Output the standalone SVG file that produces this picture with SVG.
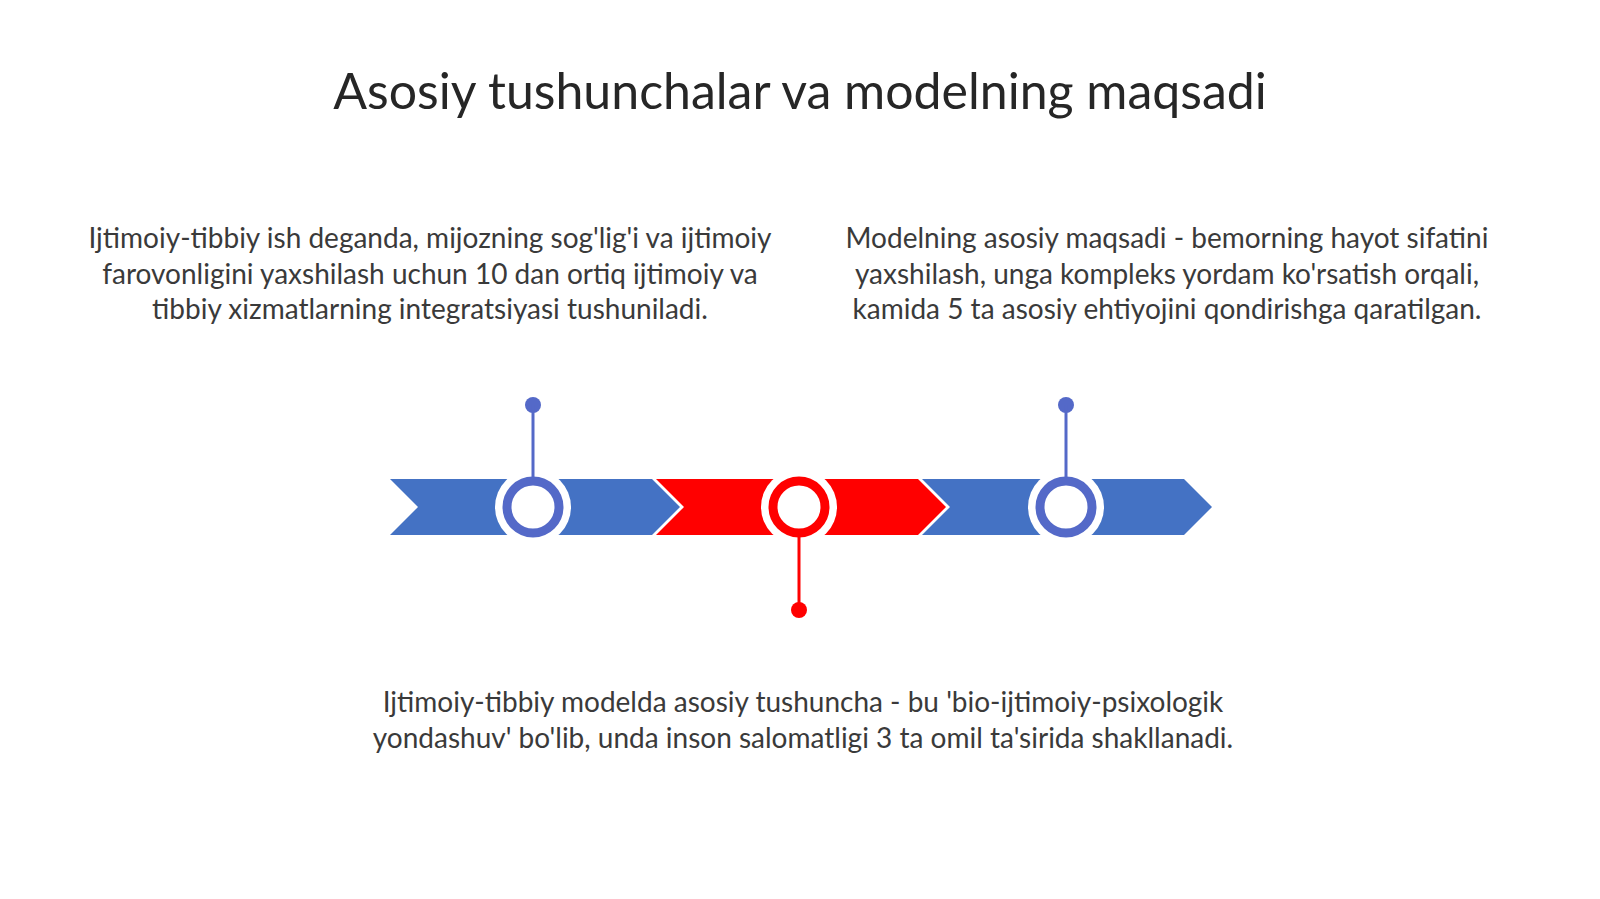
<svg xmlns="http://www.w3.org/2000/svg" width="1600" height="899" viewBox="0 0 1600 899">
<style>
.title{font-family:Lato,"Open Sans","Liberation Sans",sans-serif;font-size:50px;fill:#262626;text-anchor:middle}
.body{font-family:Lato,"Open Sans","Liberation Sans",sans-serif;font-size:28px;fill:#3a3a3a;text-anchor:middle}
.blue{fill:#4472C4}
.red{fill:#FF0000}
.halo{fill:#ffffff}
.ringB{fill:#ffffff;stroke:#5469C8;stroke-width:9}
.ringR{fill:#ffffff;stroke:#FF0000;stroke-width:9}
.lineB{stroke:#5469C8;stroke-width:3}
.lineR{stroke:#FF0000;stroke-width:3}
</style>
<rect width="1600" height="899" fill="#ffffff"/>
<text class="title" x="800" y="109">Asosiy tushunchalar va modelning maqsadi</text>
<g id="text-left">
<text class="body" x="430" y="248">Ijtimoiy-tibbiy ish deganda, mijozning sog'lig'i va ijtimoiy</text>
<text class="body" x="430" y="284">farovonligini yaxshilash uchun 10 dan ortiq ijtimoiy va</text>
<text class="body" x="430" y="319">tibbiy xizmatlarning integratsiyasi tushuniladi.</text>
</g>
<g id="text-right">
<text class="body" x="1167" y="248">Modelning asosiy maqsadi - bemorning hayot sifatini</text>
<text class="body" x="1167" y="284">yaxshilash, unga kompleks yordam ko'rsatish orqali,</text>
<text class="body" x="1167" y="319">kamida 5 ta asosiy ehtiyojini qondirishga qaratilgan.</text>
</g>
<g id="text-bottom">
<text class="body" x="803" y="712">Ijtimoiy-tibbiy modelda asosiy tushuncha - bu 'bio-ijtimoiy-psixologik</text>
<text class="body" x="803" y="748">yondashuv' bo'lib, unda inson salomatligi 3 ta omil ta'sirida shakllanadi.</text>
</g>
<g id="chevron-1"><polygon class="blue" points="390,479 652,479 680,507 652,535 390,535 418,507"/></g>
<g id="chevron-2"><polygon class="red" points="656,479 918,479 946,507 918,535 656,535 684,507"/></g>
<g id="chevron-3"><polygon class="blue" points="922,479 1184,479 1212,507 1184,535 922,535 950,507"/></g>
<g id="marker-1">
<circle class="halo" cx="533" cy="507" r="38"/>
<circle class="ringB" cx="533" cy="507" r="26"/>
<circle cx="533" cy="405" r="8" fill="#5469C8"/>
</g>
<g id="marker-2">
<circle class="halo" cx="799" cy="507" r="38"/>
<circle class="ringR" cx="799" cy="507" r="26"/>
<circle cx="799" cy="610" r="8" fill="#FF0000"/>
</g>
<g id="marker-3">
<circle class="halo" cx="1066" cy="507" r="38"/>
<circle class="ringB" cx="1066" cy="507" r="26"/>
<circle cx="1066" cy="405" r="8" fill="#5469C8"/>
</g>
<g id="connectors">
<line class="lineB" x1="533" y1="405" x2="533" y2="478"/>
<line class="lineR" x1="799" y1="536" x2="799" y2="610"/>
<line class="lineB" x1="1066" y1="405" x2="1066" y2="478"/>
</g>
</svg>
